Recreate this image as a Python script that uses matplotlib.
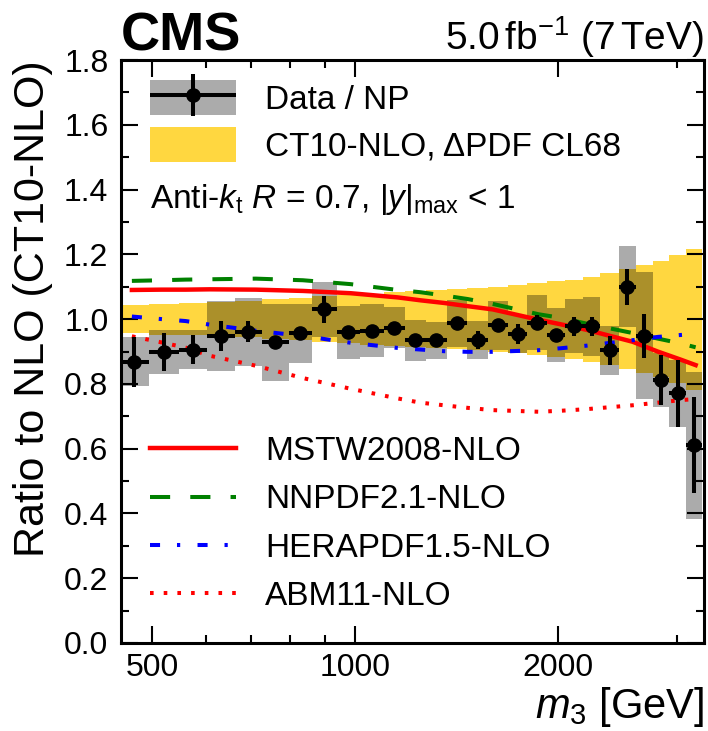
import numpy as np
import matplotlib
matplotlib.use("Agg")
import matplotlib.pyplot as plt
from matplotlib.patches import Patch
from matplotlib.lines import Line2D
from matplotlib.container import ErrorbarContainer
from matplotlib.legend_handler import HandlerErrorbar, HandlerTuple

plt.rcParams["font.family"] = ["Liberation Sans", "DejaVu Sans"]
plt.rcParams["mathtext.fontset"] = "custom"
plt.rcParams["mathtext.rm"] = "Liberation Sans"
plt.rcParams["mathtext.it"] = "Liberation Sans:italic"
plt.rcParams["mathtext.bf"] = "Liberation Sans:bold"

# m3 bin edges (GeV)
edges = np.array([445, 494, 547, 602, 662, 727, 796, 863, 938, 1016, 1103, 1184, 1271,
                  1369, 1466, 1573, 1684, 1799, 1922, 2045, 2175, 2310, 2459, 2610,
                  2763, 2925, 3096, 3270])

# data / NP ratio, stat error, syst error
ratio = np.array([0.868, 0.899, 0.906, 0.948, 0.961, 0.928, 0.956, 1.030, 0.959, 0.964,
                  0.973, 0.935, 0.935, 0.987, 0.935, 0.981, 0.954, 0.989, 0.951, 0.978,
                  0.978, 0.904, 1.100, 0.948, 0.812, 0.771, 0.611])
stat = np.array([0.077, 0.058, 0.045, 0.045, 0.032, 0.012, 0.012, 0.041, 0.012, 0.012,
                 0.012, 0.012, 0.012, 0.012, 0.028, 0.012, 0.030, 0.023, 0.012, 0.030,
                 0.030, 0.045, 0.055, 0.068, 0.077, 0.103, 0.147])
syst = np.array([0.076, 0.067, 0.059, 0.107, 0.105, 0.118, 0.092, 0.086, 0.082, 0.082,
                 0.063, 0.063, 0.057, 0.073, 0.058, 0.076, 0.058, 0.084, 0.084, 0.084,
                 0.091, 0.076, 0.125, 0.196, 0.083, 0.103, 0.227])

# CT10 PDF uncertainty (half width around 1)
pdf_unc = np.array([0.044, 0.048, 0.050, 0.053, 0.056, 0.062, 0.066, 0.070, 0.074, 0.079,
                    0.084, 0.087, 0.090, 0.092, 0.095, 0.100, 0.105, 0.111, 0.117, 0.122,
                    0.131, 0.141, 0.155, 0.167, 0.180, 0.198, 0.218])

# theory ratios to CT10
m_theo = np.array([466, 516, 560, 608, 712, 836, 984, 1156, 1250, 1353, 1468, 1599, 1871,
                   2017, 2204, 2580, 2809, 3039, 3199])
mstw = np.array([1.090, 1.091, 1.091, 1.092, 1.091, 1.087, 1.080, 1.067, 1.058, 1.050,
                 1.040, 1.030, 0.998, 0.984, 0.967, 0.930, 0.900, 0.875, 0.858])
nnpdf = np.array([1.118, 1.120, 1.122, 1.123, 1.125, 1.120, 1.108, 1.090, 1.083, 1.073,
                  1.062, 1.047, 1.015, 1.004, 0.986, 0.957, 0.940, 0.925, 0.913])
herapdf = np.array([1.008, 1.000, 0.994, 0.983, 0.964, 0.948, 0.927, 0.911, 0.906, 0.901,
                    0.899, 0.899, 0.904, 0.910, 0.918, 0.935, 0.945, 0.951, 0.955])
abm = np.array([0.947, 0.928, 0.912, 0.887, 0.856, 0.818, 0.785, 0.755, 0.742, 0.734,
                0.726, 0.719, 0.714, 0.717, 0.722, 0.734, 0.742, 0.750, 0.753])

xticks = [500, 1000, 2000]
xminor = [600, 700, 800, 900, 3000]

YELLOW = "#FFD740"

fig = plt.figure(figsize=(7.08, 7.31), dpi=100)
ax = fig.add_axes([0.1709, 0.1204, 0.8235, 0.7975])
ax.set_xscale("log")

lo, hi = edges[:-1], edges[1:]
centers = np.sqrt(lo * hi)
widths = hi - lo

ax.bar(lo, 2 * pdf_unc, bottom=1 - pdf_unc, width=widths, align="edge",
       color=YELLOW, linewidth=0, zorder=1)
ax.bar(lo, 2 * syst, bottom=ratio - syst, width=widths, align="edge",
       color="black", alpha=0.33, linewidth=0, zorder=2)

lw = 2.9
ax.plot(m_theo, mstw, color="#FF0000", lw=3.2, zorder=3)
ax.plot(m_theo, nnpdf, color="#008000", lw=lw, dashes=(5, 5), zorder=3)
ax.plot(m_theo, herapdf, color="#0000FF", lw=lw, dashes=(2.5, 4.2, 0.8, 4.3), zorder=3)
ax.plot(m_theo, abm, color="#FF0000", lw=lw, dashes=(0.9, 2.5), zorder=3)

eb = ax.errorbar(centers, ratio, xerr=[centers - lo, hi - centers], yerr=stat,
                 fmt="o", color="black", ms=9.5, elinewidth=2.9, capsize=0, zorder=5)

ax.set_xlim(449, 3292)
ax.set_ylim(0.0, 1.8)
ax.set_xticks(xticks)
ax.set_xticklabels([str(t) for t in xticks])
ax.set_xticks(xminor, minor=True)
ax.set_xticklabels([], minor=True)
ax.set_yticks(np.arange(0, 1.81, 0.2))
ax.set_yticks(np.arange(0, 1.81, 0.1), minor=True)
ax.set_yticklabels([f"{v:.1f}" for v in np.arange(0, 1.81, 0.2)])
ax.tick_params(which="both", direction="in", top=True, right=True, width=1.5,
               labelsize=23)
ax.tick_params(which="major", length=12)
ax.tick_params(which="minor", length=6)
ax.tick_params(axis="x", pad=7)
ax.tick_params(axis="y", pad=9)
for sp in ax.spines.values():
    sp.set_linewidth(2.2)

ax.set_xlabel("$m_3$ [GeV]", fontsize=30, loc="right", labelpad=2)
ax.set_ylabel("Ratio to NLO (CT10-NLO)", fontsize=31, loc="top", labelpad=8)

ax.text(0.0, 1.017, "CMS", transform=ax.transAxes, fontsize=39, fontweight="bold",
        ha="left", va="baseline")
ax.text(1.0, 1.017, "5.0$\\,$fb$^{-1}$ (7$\\,$TeV)", transform=ax.transAxes,
        fontsize=28, ha="right", va="baseline")
ax.text(0.05, 0.76, "Anti-$k_{\\mathrm{t}}$ $R$ = 0.7, $|y|_{\\mathrm{max}}$ < 1",
        transform=ax.transAxes, fontsize=24, ha="left", va="center")

hmap = {ErrorbarContainer: HandlerErrorbar(xerr_size=1.29, yerr_size=0.63),
        tuple: HandlerTuple(ndivide=1, pad=0)}
gray_patch = Patch(facecolor="black", alpha=0.33, linewidth=0)
yellow_patch = Patch(facecolor=YELLOW, linewidth=0)
leg1 = ax.legend([(gray_patch, eb), yellow_patch],
                 ["Data / NP", "CT10-NLO, ΔPDF CL68"],
                 handler_map=hmap, loc="upper left", bbox_to_anchor=(0.05, 0.965),
                 frameon=False, fontsize=24, handlelength=2.57, handleheight=1.2,
                 handletextpad=0.88, labelspacing=0.35, borderpad=0, borderaxespad=0)
ax.add_artist(leg1)

h2 = [Line2D([], [], color="#FF0000", lw=3.2),
      Line2D([], [], color="#008000", lw=lw, dashes=(5, 5)),
      Line2D([], [], color="#0000FF", lw=lw, dashes=(2.5, 4.2, 0.8, 4.3)),
      Line2D([], [], color="#FF0000", lw=lw, dashes=(0.9, 2.5))]
ax.legend(h2, ["MSTW2008-NLO", "NNPDF2.1-NLO", "HERAPDF1.5-NLO", "ABM11-NLO"],
          loc="upper left", bbox_to_anchor=(0.05, 0.355), frameon=False, fontsize=24,
          handlelength=2.57, handletextpad=0.88, labelspacing=0.52, borderpad=0,
          borderaxespad=0)

fig.savefig("out.png", dpi=100)
